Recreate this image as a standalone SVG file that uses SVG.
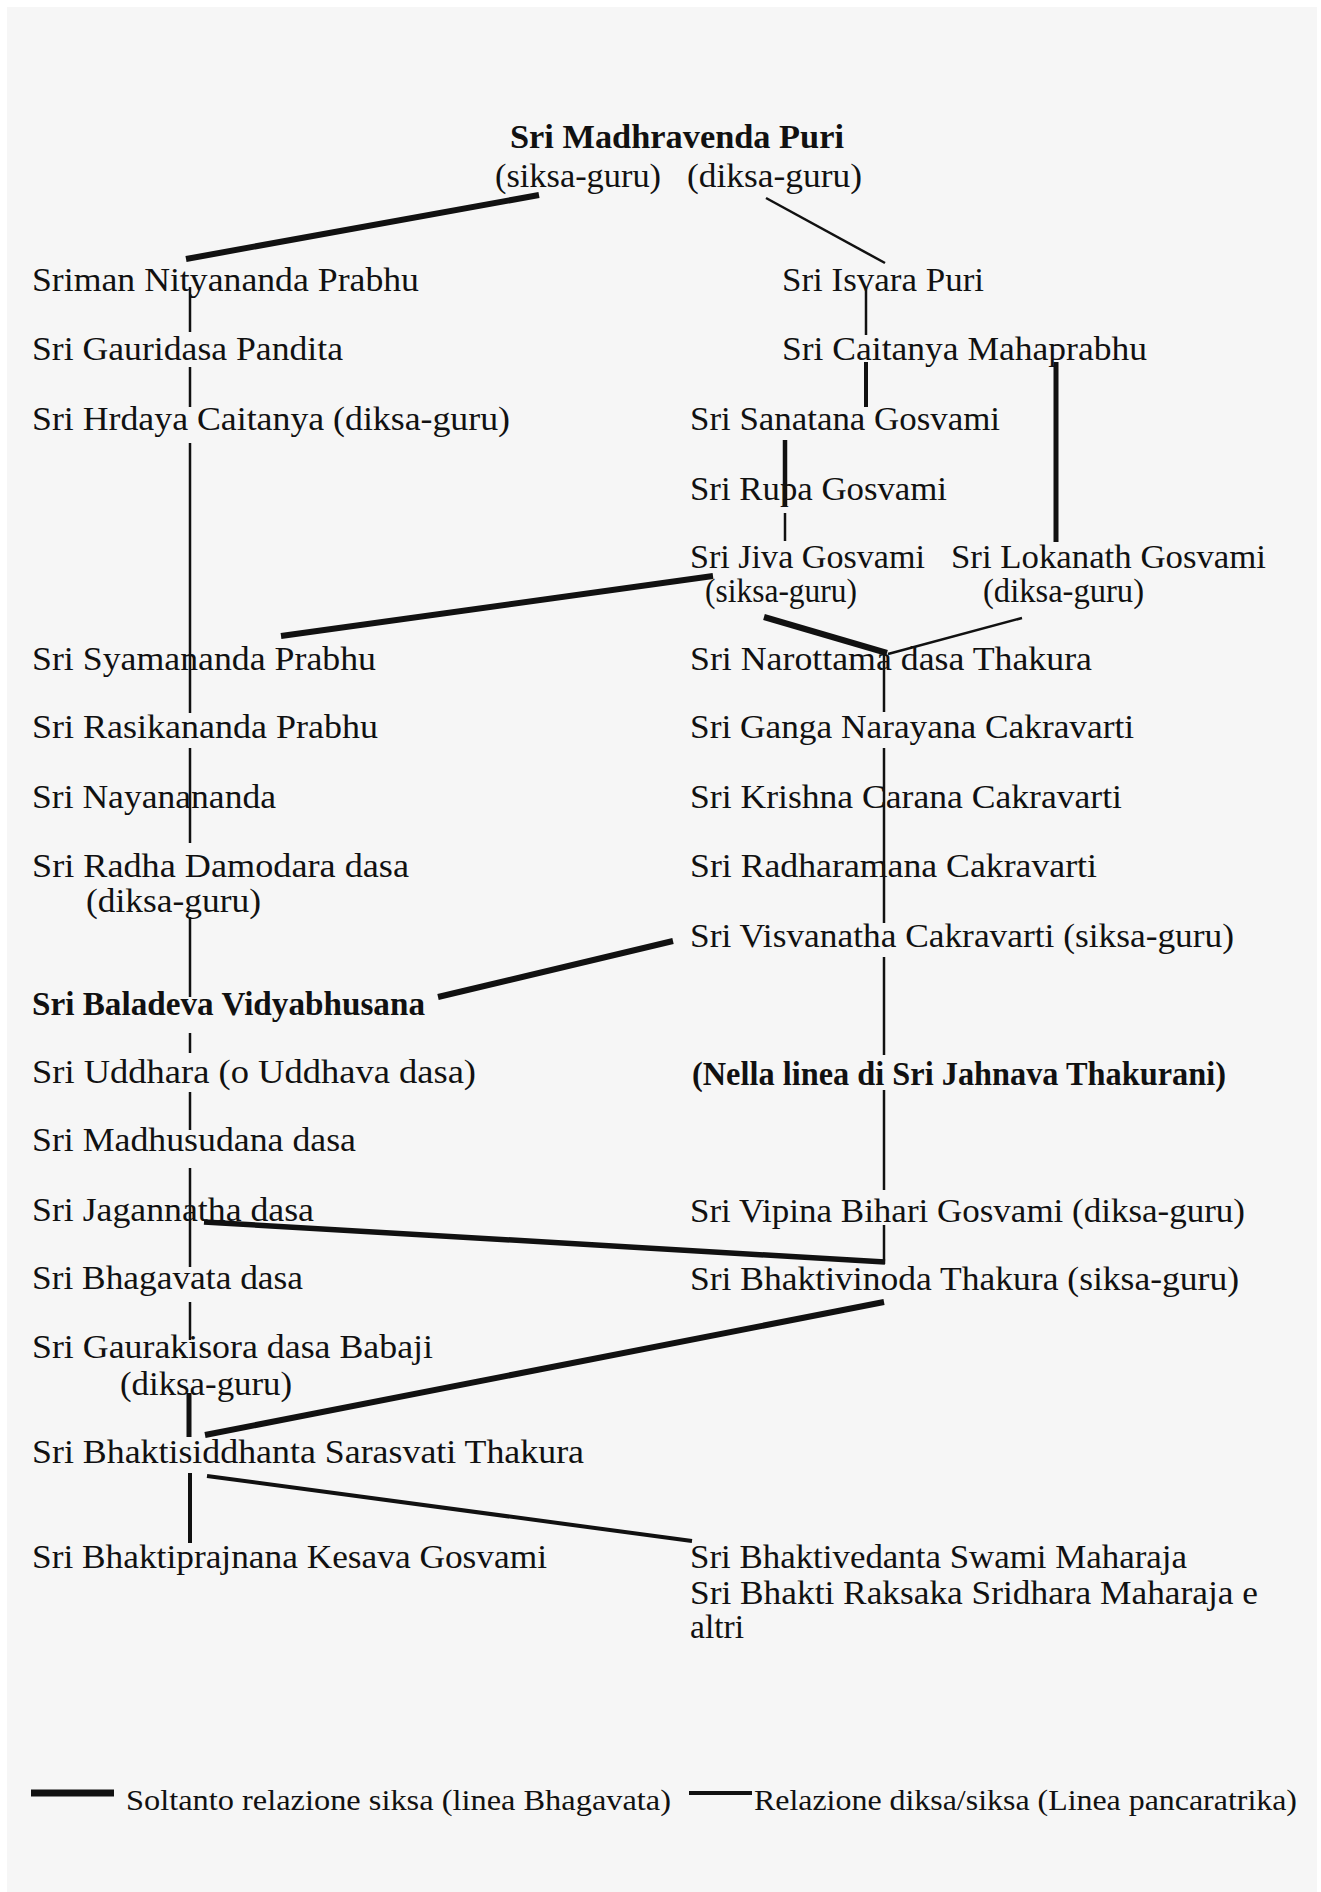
<svg xmlns="http://www.w3.org/2000/svg" width="1321" height="1892" viewBox="0 0 1321 1892">
<style>
text{font-family:"Liberation Serif","Times New Roman",serif;font-size:34px;fill:#111}
.b{font-weight:bold}
.lg{font-size:30px}
line{stroke:#111;stroke-linecap:butt}
.thin{stroke-width:2.5}
.mid{stroke-width:4}
.thick{stroke-width:6}
</style>
<rect x="0" y="0" width="1321" height="1892" fill="#ffffff"/>
<rect x="7" y="7" width="1310" height="1885" fill="#f6f6f6"/>

<g id="connectors">
  <!-- top -->
  <line class="thick" x1="539" y1="195" x2="186" y2="259"/>
  <line class="thin" x1="766" y1="198" x2="885" y2="263"/>
  <!-- left vertical -->
  <line class="thin" x1="190" y1="287" x2="190" y2="332"/>
  <line class="thin" x1="190" y1="367" x2="190" y2="407"/>
  <line class="thin" x1="190" y1="443" x2="190" y2="713"/>
  <line class="thin" x1="190" y1="748" x2="190" y2="843"/>
  <line class="thin" x1="190" y1="917" x2="190" y2="997"/>
  <line class="thin" x1="190" y1="1033" x2="190" y2="1053"/>
  <line class="thin" x1="190" y1="1092" x2="190" y2="1130"/>
  <line class="thin" x1="190" y1="1168" x2="190" y2="1267"/>
  <line class="thin" x1="190" y1="1302" x2="190" y2="1340"/>
  <line class="mid" x1="189" y1="1393" x2="189" y2="1437" style="stroke-width:5"/>
  <line class="mid" x1="190" y1="1473" x2="190" y2="1543"/>
  <!-- right verticals -->
  <line class="thin" x1="866" y1="288" x2="866" y2="335"/>
  <line class="mid" x1="866" y1="362" x2="866" y2="407"/>
  <line class="thick" x1="1056" y1="362" x2="1056" y2="542" style="stroke-width:5"/>
  <line class="mid" x1="785" y1="440" x2="785" y2="506" style="stroke-width:4.5"/>
  <line class="thin" x1="785" y1="513" x2="785" y2="541"/>
  <line class="thin" x1="884" y1="653" x2="884" y2="712"/>
  <line class="thin" x1="884" y1="748" x2="884" y2="923"/>
  <line class="thin" x1="884" y1="957" x2="884" y2="1055"/>
  <line class="thin" x1="884" y1="1090" x2="884" y2="1190"/>
  <line class="thin" x1="884" y1="1225" x2="884" y2="1264"/>
  <!-- diagonals -->
  <line class="thick" x1="713" y1="576" x2="281" y2="636"/>
  <line class="thick" x1="764" y1="617" x2="887" y2="653"/>
  <line class="thin" x1="1022" y1="618" x2="888" y2="654"/>
  <line class="thick" x1="673" y1="941" x2="438" y2="997"/>
  <line class="thick" x1="204" y1="1222" x2="885" y2="1262" style="stroke-width:5.5"/>
  <line class="thick" x1="884" y1="1302" x2="205" y2="1435"/>
  <line class="mid" x1="207" y1="1476" x2="692" y2="1541"/>
</g>

<g id="madhavendra-puri">
  <text class="b" x="510" y="148" textLength="334" lengthAdjust="spacingAndGlyphs">Sri Madhravenda Puri</text>
  <text x="495" y="187" textLength="166" lengthAdjust="spacingAndGlyphs">(siksa-guru)</text>
  <text x="687" y="187" textLength="175" lengthAdjust="spacingAndGlyphs">(diksa-guru)</text>
</g>

<g id="nityananda"><text x="32" y="291" textLength="387" lengthAdjust="spacingAndGlyphs">Sriman Nityananda Prabhu</text></g>
<g id="gauridasa"><text x="32" y="360" textLength="311" lengthAdjust="spacingAndGlyphs">Sri Gauridasa Pandita</text></g>
<g id="hrdaya"><text x="32" y="430" textLength="478" lengthAdjust="spacingAndGlyphs">Sri Hrdaya Caitanya (diksa-guru)</text></g>
<g id="syamananda"><text x="32" y="670" textLength="344" lengthAdjust="spacingAndGlyphs">Sri Syamananda Prabhu</text></g>
<g id="rasikananda"><text x="32" y="738" textLength="346" lengthAdjust="spacingAndGlyphs">Sri Rasikananda Prabhu</text></g>
<g id="nayanananda"><text x="32" y="808" textLength="244" lengthAdjust="spacingAndGlyphs">Sri Nayanananda</text></g>
<g id="radha-damodara">
  <text x="32" y="877" textLength="377" lengthAdjust="spacingAndGlyphs">Sri Radha Damodara dasa</text>
  <text x="86" y="912" textLength="175" lengthAdjust="spacingAndGlyphs">(diksa-guru)</text>
</g>
<g id="baladeva"><text class="b" x="32" y="1015" textLength="393" lengthAdjust="spacingAndGlyphs">Sri Baladeva Vidyabhusana</text></g>
<g id="uddhara"><text x="32" y="1083" textLength="444" lengthAdjust="spacingAndGlyphs">Sri Uddhara (o Uddhava dasa)</text></g>
<g id="madhusudana"><text x="32" y="1151" textLength="324" lengthAdjust="spacingAndGlyphs">Sri Madhusudana dasa</text></g>
<g id="jagannatha"><text x="32" y="1221" textLength="282" lengthAdjust="spacingAndGlyphs">Sri Jagannatha dasa</text></g>
<g id="bhagavata"><text x="32" y="1289" textLength="271" lengthAdjust="spacingAndGlyphs">Sri Bhagavata dasa</text></g>
<g id="gaurakisora">
  <text x="32" y="1358" textLength="401" lengthAdjust="spacingAndGlyphs">Sri Gaurakisora dasa Babaji</text>
  <text x="120" y="1395" textLength="172" lengthAdjust="spacingAndGlyphs">(diksa-guru)</text>
</g>
<g id="bhaktisiddhanta"><text x="32" y="1463" textLength="552" lengthAdjust="spacingAndGlyphs">Sri Bhaktisiddhanta Sarasvati Thakura</text></g>
<g id="kesava"><text x="32" y="1568" textLength="515" lengthAdjust="spacingAndGlyphs">Sri Bhaktiprajnana Kesava Gosvami</text></g>

<g id="isvara-puri"><text x="782" y="291" textLength="202" lengthAdjust="spacingAndGlyphs">Sri Isvara Puri</text></g>
<g id="caitanya"><text x="782" y="360" textLength="365" lengthAdjust="spacingAndGlyphs">Sri Caitanya Mahaprabhu</text></g>
<g id="sanatana"><text x="690" y="430" textLength="310" lengthAdjust="spacingAndGlyphs">Sri Sanatana Gosvami</text></g>
<g id="rupa"><text x="690" y="500" textLength="257" lengthAdjust="spacingAndGlyphs">Sri Rupa Gosvami</text></g>
<g id="jiva">
  <text x="690" y="568" textLength="235" lengthAdjust="spacingAndGlyphs">Sri Jiva Gosvami</text>
  <text x="705" y="602" textLength="152" lengthAdjust="spacingAndGlyphs">(siksa-guru)</text>
</g>
<g id="lokanath">
  <text x="951" y="568" textLength="315" lengthAdjust="spacingAndGlyphs">Sri Lokanath Gosvami</text>
  <text x="983" y="602" textLength="161" lengthAdjust="spacingAndGlyphs">(diksa-guru)</text>
</g>
<g id="narottama"><text x="690" y="670" textLength="402" lengthAdjust="spacingAndGlyphs">Sri Narottama dasa Thakura</text></g>
<g id="ganga-narayana"><text x="690" y="738" textLength="444" lengthAdjust="spacingAndGlyphs">Sri Ganga Narayana Cakravarti</text></g>
<g id="krishna-carana"><text x="690" y="808" textLength="432" lengthAdjust="spacingAndGlyphs">Sri Krishna Carana Cakravarti</text></g>
<g id="radharamana"><text x="690" y="877" textLength="407" lengthAdjust="spacingAndGlyphs">Sri Radharamana Cakravarti</text></g>
<g id="visvanatha"><text x="690" y="947" textLength="544" lengthAdjust="spacingAndGlyphs">Sri Visvanatha Cakravarti (siksa-guru)</text></g>
<g id="jahnava-line"><text class="b" x="692" y="1085" textLength="534" lengthAdjust="spacingAndGlyphs">(Nella linea di Sri Jahnava Thakurani)</text></g>
<g id="vipina-bihari"><text x="690" y="1222" textLength="555" lengthAdjust="spacingAndGlyphs">Sri Vipina Bihari Gosvami (diksa-guru)</text></g>
<g id="bhaktivinoda"><text x="690" y="1290" textLength="549" lengthAdjust="spacingAndGlyphs">Sri Bhaktivinoda Thakura (siksa-guru)</text></g>
<g id="bhaktivedanta">
  <text x="690" y="1568" textLength="497" lengthAdjust="spacingAndGlyphs">Sri Bhaktivedanta Swami Maharaja</text>
  <text x="690" y="1604" textLength="568" lengthAdjust="spacingAndGlyphs">Sri Bhakti Raksaka Sridhara Maharaja e</text>
  <text x="690" y="1638" textLength="54" lengthAdjust="spacingAndGlyphs">altri</text>
</g>

<g id="legend">
  <line x1="31" y1="1793" x2="114" y2="1793" style="stroke-width:7"/>
  <text class="lg" x="126" y="1810" textLength="545" lengthAdjust="spacingAndGlyphs">Soltanto relazione siksa (linea Bhagavata)</text>
  <line x1="689" y1="1793" x2="752" y2="1793" style="stroke-width:4"/>
  <text class="lg" x="754" y="1810" textLength="543" lengthAdjust="spacingAndGlyphs">Relazione diksa/siksa (Linea pancaratrika)</text>
</g>
</svg>
